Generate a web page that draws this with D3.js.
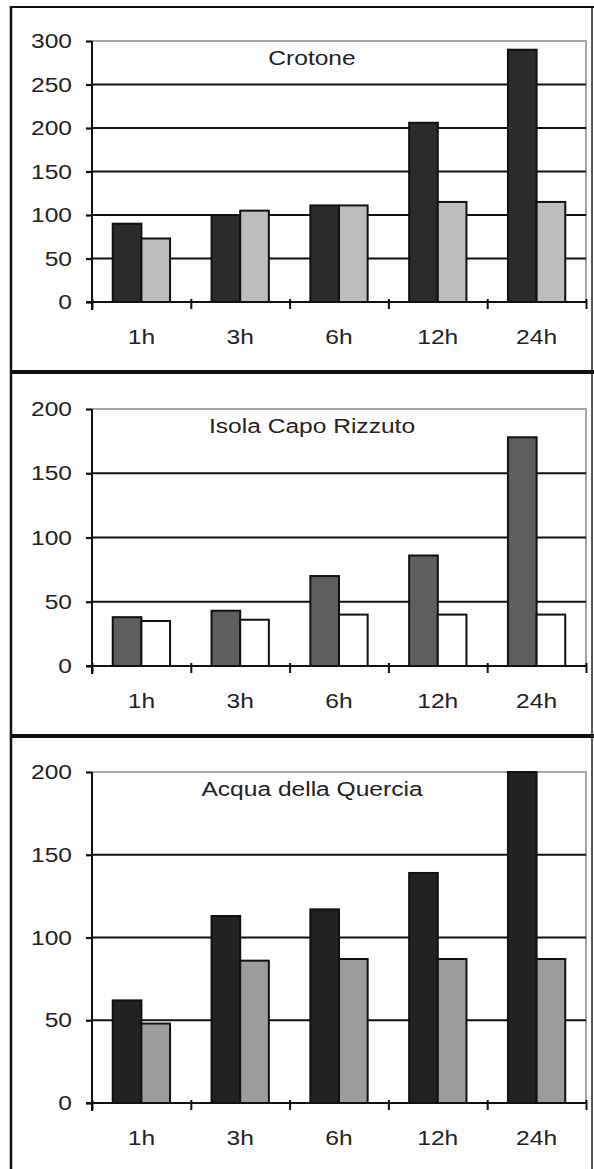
<!DOCTYPE html>
<html>
<head>
<meta charset="utf-8">
<script src="https://cdn.jsdelivr.net/npm/d3@7"></script>
<style>
  html, body { margin: 0; padding: 0; background: #fff; }
  svg text { font-family: "Liberation Sans", Arial, sans-serif; fill: #222; }
</style>
</head>
<body>
<div id="chart"></div>
<script>
// Data
const categories = ["1h", "3h", "6h", "12h", "24h"]

const crotoneDark = [90, 100, 111, 206, 290]
const crotoneLight = [73, 105, 111, 115, 115]
const crotoneTicks = [0, 50, 100, 150, 200, 250, 300]

const isolaDark = [38, 43, 70, 86, 178]
const isolaLight = [35, 36, 40, 40, 40]
const isolaTicks = [0, 50, 100, 150, 200]

const acquaDark = [62, 113, 117, 139, 200]
const acquaLight = [48, 86, 87, 87, 87]
const acquaTicks = [0, 50, 100, 150, 200]

// Page size and text stretch (the scan is wider than plain Arial)
const width = 594
const height = 1169
const SX = 1.17
const fontSize = 21
const left = 92
const right = 586

const panels = [
  { title: "Crotone", dark: crotoneDark, light: crotoneLight, ticks: crotoneTicks,
    top: 41, bottom: 302, darkFill: "#2b2b2b", lightFill: "#bdbdbd" },
  { title: "Isola Capo Rizzuto", dark: isolaDark, light: isolaLight, ticks: isolaTicks,
    top: 409, bottom: 666, darkFill: "#5e5e5e", lightFill: "#ffffff" },
  { title: "Acqua della Quercia", dark: acquaDark, light: acquaLight, ticks: acquaTicks,
    top: 772, bottom: 1103, darkFill: "#222222", lightFill: "#9c9c9c" }
]

const svg = d3.select("#chart")
  .append("svg")
  .attr("width", width)
  .attr("height", height)

// stretch text horizontally around its anchor
function stretch(sel) {
  sel.each(function () {
    let t = d3.select(this)
    let x = +t.attr("x") || 0
    let y = +t.attr("y") || 0
    t.attr("x", 0).attr("y", 0)
     .attr("transform", `translate(${x},${y}) scale(${SX},1)`)
  })
}

// Outer frame
svg.append("line").attr("x1", 11).attr("x2", 11).attr("y1", 6).attr("y2", height)
  .attr("stroke", "#111").attr("stroke-width", 2.5)
svg.append("line").attr("x1", 592).attr("x2", 592).attr("y1", 6).attr("y2", height)
  .attr("stroke", "#222").attr("stroke-width", 1.5)
svg.append("line").attr("x1", 10).attr("x2", 594).attr("y1", 7).attr("y2", 7)
  .attr("stroke", "#111").attr("stroke-width", 2)
;[372, 736].forEach(y => {
  svg.append("line").attr("x1", 10).attr("x2", 594).attr("y1", y).attr("y2", y)
    .attr("stroke", "#111").attr("stroke-width", 4)
})

panels.forEach(p => {
  const g = svg.append("g")
  const maxY = p.ticks[p.ticks.length - 1]

  const xScale = d3.scaleBand()
    .domain(categories)
    .range([left, right])
    .paddingInner(0)
    .paddingOuter(0)

  const xSub = d3.scaleBand()
    .domain(["dark", "light"])
    .range([0, xScale.bandwidth() * 0.58])

  const boundary = d3.scaleLinear()
    .domain([0, categories.length])
    .range([left, right])

  const yScale = d3.scaleLinear()
    .domain([0, maxY])
    .range([p.bottom, p.top])

  // plot area border (grey, top and right)
  g.append("path")
    .attr("d", `M${left},${p.top}H${right}V${p.bottom}`)
    .attr("fill", "none")
    .attr("stroke", "#8a8a8a")
    .attr("stroke-width", 1.5)

  // gridlines
  g.selectAll(".grid")
    .data(p.ticks.filter(d => d > 0 && d < maxY))
    .enter()
    .append("line")
    .attr("x1", left)
    .attr("x2", right)
    .attr("y1", d => yScale(d))
    .attr("y2", d => yScale(d))
    .attr("stroke", "#111")
    .attr("stroke-width", 2.2)

  // bars
  const offset = (xScale.bandwidth() - xSub.range()[1]) / 2
  const rows = categories.map((c, i) => ({ c: c, dark: p.dark[i], light: p.light[i] }))

  ;["dark", "light"].forEach(k => {
    g.selectAll(".bar-" + k)
      .data(rows)
      .enter()
      .append("rect")
      .attr("x", d => xScale(d.c) + offset + xSub(k))
      .attr("y", d => yScale(d[k]))
      .attr("width", xSub.bandwidth())
      .attr("height", d => p.bottom - yScale(d[k]))
      .attr("fill", k == "dark" ? p.darkFill : p.lightFill)
      .attr("stroke", "#111")
      .attr("stroke-width", 2)
  })

  // y axis
  const yAxis = d3.axisLeft(yScale)
    .tickValues(p.ticks)
    .tickSizeInner(6)
    .tickSizeOuter(0)
    .tickPadding(14)
  const ya = g.append("g")
    .attr("transform", `translate(${left},0)`)
    .call(yAxis)
  ya.select(".domain").remove()
  ya.selectAll("line").attr("stroke", "#111").attr("stroke-width", 2.2)
  ya.selectAll("text").attr("font-size", fontSize).attr("font-family", null).call(stretch)
  g.append("line")
    .attr("x1", left).attr("x2", left)
    .attr("y1", p.top).attr("y2", p.bottom + 8)
    .attr("stroke", "#111").attr("stroke-width", 2)

  // x axis line with boundary ticks
  const xTickAxis = d3.axisBottom(boundary)
    .tickValues(d3.range(categories.length + 1))
    .tickFormat("")
    .tickSizeInner(7)
    .tickSizeOuter(0)
  const xt = g.append("g")
    .attr("transform", `translate(0,${p.bottom})`)
    .call(xTickAxis)
  xt.select(".domain").attr("stroke", "#111").attr("stroke-width", 2.2)
    .attr("d", `M${left - 6},0H${right}`)
  xt.selectAll(".tick line").attr("stroke", "#111").attr("stroke-width", 2).attr("y1", -3)

  // category labels
  const xAxis = d3.axisBottom(xScale)
    .tickSize(0)
    .tickPadding(27)
  const xa = g.append("g")
    .attr("transform", `translate(0,${p.bottom})`)
    .call(xAxis)
  xa.select(".domain").remove()
  xa.selectAll("text").attr("font-size", fontSize).attr("font-family", null).call(stretch)

  // panel title
  g.append("text")
    .attr("x", 312)
    .attr("y", p.top + 24)
    .attr("text-anchor", "middle")
    .attr("font-size", fontSize)
    .text(p.title)
    .call(stretch)
})
</script>
</body>
</html>
